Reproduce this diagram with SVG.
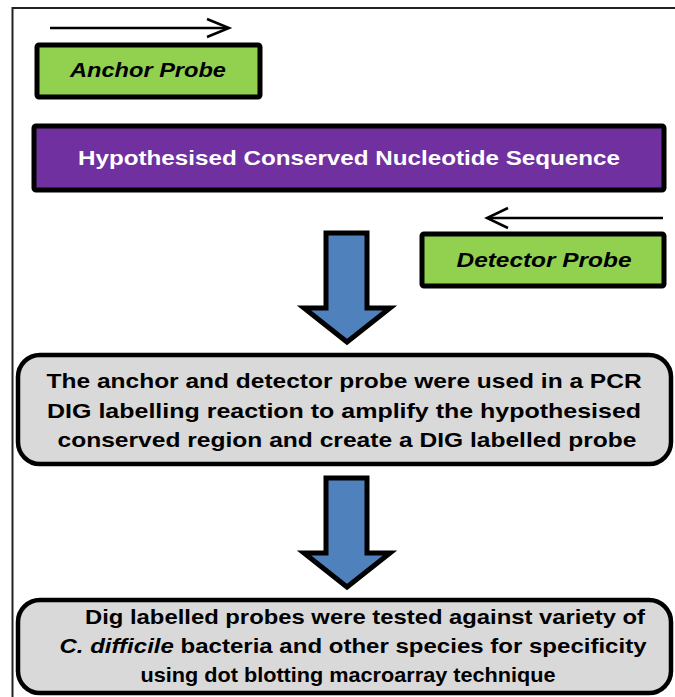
<svg xmlns="http://www.w3.org/2000/svg" width="675" height="697" viewBox="0 0 675 697">
<style>
  .probe { fill: #92D050; stroke: #000; stroke-width: 5; }
  .seq { fill: #7030A0; stroke: #000; stroke-width: 5; }
  .step { fill: #D9D9D9; stroke: #000; stroke-width: 4.5; }
  .down { fill: #4F81BD; stroke: #000; stroke-width: 5; stroke-linejoin: miter; }
  .dir { fill: none; stroke: #000; stroke-width: 2.5; }
  .lbl { font-family: "Liberation Sans", Arial, sans-serif; font-weight: bold; text-anchor: middle; }
  .it { font-style: italic; }
</style>
<rect x="12.5" y="8" width="700" height="720" fill="none" stroke="#222" stroke-width="2"/>
<g id="connectors">
  <g id="anchor-direction">
    <line class="dir" x1="50" y1="28" x2="228" y2="28"/>
    <polyline class="dir" points="207,19 229,28 207,37"/>
  </g>
  <g id="detector-direction">
    <line class="dir" x1="663" y1="218" x2="488" y2="218"/>
    <polyline class="dir" points="508,208 487,218 508,228"/>
  </g>
  <polygon id="arrow1" class="down" points="326,233 367,233 367,308 390,308 347,342 304,308 326,308"/>
  <polygon id="arrow2" class="down" points="326,478 367,478 367,553 390,553 347,587 304,553 326,553"/>
</g>
<g id="anchor-probe">
  <rect class="probe" x="37" y="45" width="223" height="52" rx="2"/>
  <text class="lbl it" x="148" y="77" font-size="20" textLength="156" lengthAdjust="spacingAndGlyphs">Anchor Probe</text>
</g>
<g id="conserved-sequence">
  <rect class="seq" x="34" y="126" width="630" height="64" rx="2"/>
  <text class="lbl" x="349" y="165" font-size="20" fill="#fff" textLength="542" lengthAdjust="spacingAndGlyphs">Hypothesised Conserved Nucleotide  Sequence</text>
</g>
<g id="detector-probe">
  <rect class="probe" x="422" y="234" width="242" height="52" rx="2"/>
  <text class="lbl it" x="544" y="267" font-size="20" textLength="175" lengthAdjust="spacingAndGlyphs">Detector Probe</text>
</g>
<g id="pcr-step">
  <rect class="step" x="18" y="355" width="653" height="109" rx="22"/>
  <text class="lbl" font-size="21">
    <tspan x="347" y="388" textLength="595" lengthAdjust="spacingAndGlyphs">The anchor  and detector probe were used in a PCR</tspan>
    <tspan x="347" y="418" textLength="594" lengthAdjust="spacingAndGlyphs">DIG labelling  reaction to amplify  the hypothesised</tspan>
    <tspan x="347" y="447" textLength="579" lengthAdjust="spacingAndGlyphs">conserved region and  create a DIG labelled probe</tspan>
  </text>
</g>
<g id="test-step">
  <rect class="step" x="18" y="600" width="653" height="93" rx="22"/>
  <text class="lbl" font-size="21" x="365" y="624" textLength="560" lengthAdjust="spacingAndGlyphs">Dig labelled  probes were tested against  variety of</text>
  <text class="lbl" font-size="21" x="353" y="653" textLength="587" lengthAdjust="spacingAndGlyphs"><tspan class="it">C. difficile</tspan>  bacteria and other species for specificity</text>
  <text class="lbl" font-size="21" x="348" y="682" textLength="415" lengthAdjust="spacingAndGlyphs">using dot blotting macroarray technique</text>
</g>
</svg>
